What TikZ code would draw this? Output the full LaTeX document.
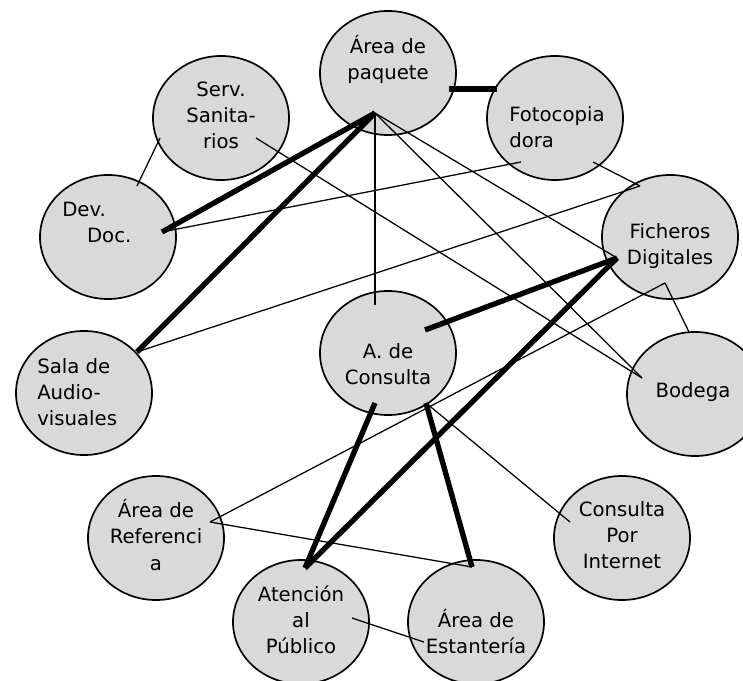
\documentclass[tikz,border=0pt]{standalone}
\usepackage{fontspec}
\setmainfont{DejaVu Sans}
\usepackage{tikz}
\usetikzlibrary{shapes.geometric, calc}
\definecolor{AreaGray}{RGB}{217,217,217}

\begin{document}
\begin{tikzpicture}[x=0.025cm, y=-0.025cm,
            area/.style={ellipse, draw=black, fill=AreaGray, line width=1.2pt,
                         minimum width=3.4cm, minimum height=3.1cm, inner sep=0pt},
            txt/.style={align=center, inner sep=0pt,
                        font=\fontsize{14}{18.5}\selectfont},
            thin/.style={line width=0.9pt},
            thick/.style={line width=3.8pt}
          ]
          \useasboundingbox (0,0) rectangle (743,681);

          % Areas
          \node[area] (paquete)  at (388, 73)  {};
          \node[area] (sanit)    at (221,118)  {};
          \node[area] (devdoc)   at (108,237)  {};
          \node[area] (foto)     at (555,118)  {};
          \node[area] (fich)     at (670,237)  {};
          \node[area] (sala)     at ( 84,393)  {};
          \node[area] (consulta) at (388,353)  {};
          \node[area] (bodega)   at (695,394)  {};
          \node[area] (refer)    at (156,538)  {};
          \node[area] (internet) at (622,538)  {};
          \node[area] (atencion) at (301,622)  {};
          \node[area] (estant)   at (476,622)  {};

          % Connection points
          \path (paquete)  ++(-13, 40) coordinate (pq-hub)
                (paquete)  ++( 61, 16) coordinate (pq-r)
                (foto)     ++(-58,-29) coordinate (foto-l)
                (foto)     ++(-34, 44) coordinate (foto-a)
                (foto)     ++( 38, 44) coordinate (foto-b)
                (sanit)    ++(-61, 20) coordinate (sanit-a)
                (sanit)    ++( 35, 20) coordinate (sanit-b)
                (devdoc)   ++( 29,-51) coordinate (devdoc-a)
                (devdoc)   ++( 54, -5) coordinate (devdoc-b)
                (fich)     ++(-30,-51) coordinate (fich-a)
                (fich)     ++(-53, 21) coordinate (fich-b)
                (fich)     ++( -5, 46) coordinate (fich-c)
                (sala)     ++( 53,-41) coordinate (sala-a)
                (consulta) ++(-13,-48) coordinate (cons-top)
                (consulta) ++( 37,-23) coordinate (cons-a)
                (consulta) ++(-13, 50) coordinate (cons-b)
                (consulta) ++( 38, 50) coordinate (cons-c)
                (bodega)   ++(-53,-16) coordinate (bodega-a)
                (bodega)   ++( -6,-62) coordinate (bodega-b)
                (refer)    ++( 54,-16) coordinate (refer-a)
                (internet) ++(-52,-16) coordinate (internet-a)
                (atencion) ++(  4,-54) coordinate (atencion-a)
                (atencion) ++( 51, -4) coordinate (atencion-b)
                (estant)   ++( -4,-55) coordinate (estant-a)
                (estant)   ++(-52, 20) coordinate (estant-b);

          % Weak relations
          \draw[thin] (sanit-a) -- (devdoc-a);
          \draw[thin] (sanit-b) -- (bodega-a);
          \draw[thin] (devdoc-b) -- (foto-a);
          \draw[thin] (foto-b) -- (fich-a);
          \draw[thin] (sala-a) -- (fich-a);
          \draw[thin] (pq-hub) -- (cons-top);
          \draw[thin] (pq-hub) -- (fich-b);
          \draw[thin] (pq-hub) -- (bodega-a);
          \draw[thin] (fich-c) -- (bodega-b);
          \draw[thin] (fich-c) -- (refer-a);
          \draw[thin] (refer-a) -- (estant-a);
          \draw[thin] (cons-c) -- (internet-a);
          \draw[thin] (atencion-b) -- (estant-b);

          % Strong relations
          \draw[thick] (pq-r) -- (foto-l);
          \draw[thick] (pq-hub) -- (devdoc-b);
          \draw[thick] (pq-hub) -- (sala-a);
          \draw[thick] (fich-b) -- (cons-a);
          \draw[thick] (fich-b) -- (atencion-a);
          \draw[thick] (cons-b) -- (atencion-a);
          \draw[thick] (cons-c) -- (estant-a);

          % Labels
          \node[txt] (paquete-t)  at (388, 59) {Área de\\paquete};
          \node[txt] (sanit-t)    at (221,115) {Serv.\\Sanita-\\rios};
          \node[txt, align=left, anchor=west] (devdoc-t) at (62,222)
                {Dev.\\\hspace*{0.62cm}Doc.};
          \node[txt, align=left, anchor=west] (foto-t) at (509,127)
                {Fotocopia\\dora};
          \node[txt] (fich-t)     at (670,246) {Ficheros\\Digitales};
          \node[txt, align=left, anchor=west] (sala-t) at (37,392)
                {Sala de\\Audio-\\visuales};
          \node[txt] (consulta-t) at (388,364) {A. de\\Consulta};
          \node[txt] (bodega-t)   at (693,392) {Bodega};
          \node[txt] (refer-t)    at (156,535) {Área de\\Referenci\\a};
          \node[txt] (internet-t) at (622,535) {Consulta\\Por\\Internet};
          \node[txt] (atencion-t) at (301,620) {Atención\\al\\Público};
          \node[txt] (estant-t)   at (476,632) {Área de\\Estantería};
        \end{tikzpicture}
\end{document}
